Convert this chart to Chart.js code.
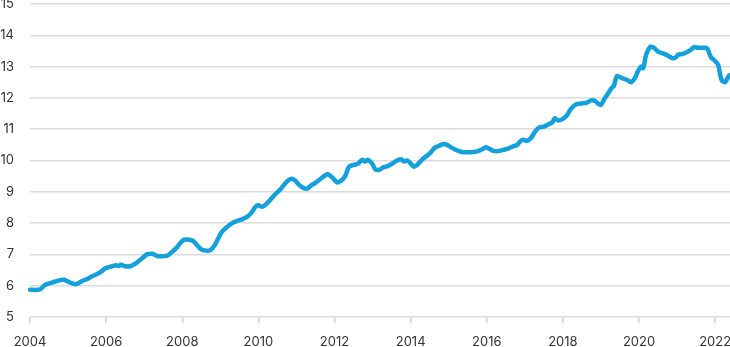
<!DOCTYPE html>
<html>
<head>
<meta charset="utf-8">
<script src="https://cdn.jsdelivr.net/npm/chart.js@4/dist/chart.umd.min.js"></script>
<style>
html,body{margin:0;padding:0;background:#fff;}
#c{display:block;}
</style>
</head>
<body>
<canvas id="c" width="730" height="347"></canvas>
<script>
const years = [2004.00,2004.26,2004.39,2004.58,2004.79,2004.89,2005.10,2005.21,2005.37,2005.52,
2005.63,2005.76,2005.87,2005.97,2006.10,2006.26,2006.34,2006.39,2006.50,2006.65,
2006.79,2006.92,2007.07,2007.21,2007.34,2007.49,2007.63,2007.73,2007.84,2007.94,
2008.05,2008.18,2008.28,2008.39,2008.49,2008.62,2008.73,2008.83,2008.94,2009.04,
2009.18,2009.31,2009.44,2009.57,2009.70,2009.81,2009.91,2009.99,2010.10,2010.20,
2010.31,2010.44,2010.57,2010.67,2010.78,2010.86,2010.96,2011.07,2011.17,2011.28,
2011.38,2011.49,2011.62,2011.75,2011.83,2011.93,2012.07,2012.17,2012.28,2012.38,
2012.51,2012.62,2012.72,2012.80,2012.88,2012.99,2013.07,2013.17,2013.28,2013.41,
2013.54,2013.64,2013.75,2013.83,2013.91,2013.98,2014.09,2014.19,2014.30,2014.43,
2014.54,2014.64,2014.75,2014.85,2014.96,2015.06,2015.19,2015.32,2015.48,2015.64,
2015.77,2015.88,2015.98,2016.06,2016.17,2016.30,2016.43,2016.56,2016.69,2016.80,
2016.87,2016.95,2017.06,2017.16,2017.27,2017.37,2017.50,2017.61,2017.72,2017.79,
2017.87,2018.00,2018.11,2018.21,2018.35,2018.48,2018.63,2018.74,2018.85,2018.92,
2019.00,2019.08,2019.19,2019.29,2019.34,2019.42,2019.55,2019.69,2019.79,2019.90,
2019.97,2020.05,2020.11,2020.18,2020.29,2020.39,2020.50,2020.63,2020.76,2020.87,
2020.95,2021.03,2021.13,2021.24,2021.34,2021.45,2021.55,2021.68,2021.79,2021.89,
2022.00,2022.08,2022.13,2022.18,2022.26,2022.31,2022.37];

const values = [5.87,5.88,6.02,6.1,6.18,6.19,6.08,6.05,6.15,6.22,
6.3,6.37,6.45,6.55,6.6,6.65,6.63,6.67,6.62,6.63,
6.72,6.85,7.0,7.02,6.95,6.94,6.97,7.08,7.2,7.35,
7.47,7.47,7.43,7.3,7.17,7.12,7.13,7.25,7.5,7.72,
7.88,8.0,8.07,8.12,8.2,8.32,8.5,8.57,8.52,8.6,
8.74,8.92,9.07,9.22,9.36,9.42,9.37,9.22,9.13,9.1,
9.2,9.28,9.4,9.52,9.56,9.47,9.3,9.35,9.5,9.8,
9.86,9.9,10.02,9.97,10.02,9.9,9.72,9.7,9.78,9.83,
9.92,10.0,10.04,9.97,10.0,9.93,9.8,9.88,10.03,10.15,
10.27,10.42,10.47,10.53,10.5,10.42,10.34,10.28,10.26,10.27,
10.3,10.36,10.42,10.38,10.31,10.3,10.34,10.38,10.45,10.5,
10.6,10.66,10.63,10.72,10.92,11.05,11.08,11.15,11.22,11.35,
11.28,11.33,11.45,11.65,11.8,11.82,11.85,11.92,11.9,11.82,
11.78,11.95,12.15,12.33,12.38,12.7,12.63,12.57,12.5,12.65,
12.85,13.0,12.95,13.35,13.62,13.6,13.48,13.42,13.35,13.27,
13.28,13.38,13.4,13.45,13.52,13.62,13.6,13.6,13.58,13.3,
13.18,13.05,12.75,12.55,12.5,12.6,12.72];

const xTickYears = [2004,2006,2008,2010,2012,2014,2016,2018,2020,2022];
const yTickValues = [5,6,7,8,9,10,11,12,13,14,15];

const points = years.map((y, i) => ({x: y, y: values[i]}));
const font = {family: "Inter, 'Open Sans', sans-serif", size: 13};

new Chart(document.getElementById('c'), {
  type: 'line',
  data: {
    datasets: [{
      data: points,
      borderColor: '#13a0db',
      borderWidth: 4.5,
      pointRadius: 0,
      tension: 0.3,
      borderCapStyle: 'round',
      borderJoinStyle: 'round',
      fill: false,
      clip: false
    }]
  },
  options: {
    responsive: false,
    animation: false,
    layout: {padding: {top: 4, right: 0, bottom: 0, left: 0}},
    plugins: {legend: {display: false}, tooltip: {enabled: false}},
    scales: {
      x: {
        type: 'linear',
        min: 2004,
        max: 2022.39,
        afterBuildTicks: s => { s.ticks = xTickYears.map(v => ({value: v})); },
        afterFit: s => { s.height = 30; s.paddingLeft = 0; s.paddingRight = 0; },
        border: {display: false},
        grid: {drawOnChartArea: false, drawTicks: true, tickLength: 6, color: '#cfcfcf', lineWidth: 1.5},
        ticks: {font: font, color: '#333', padding: 11, maxRotation: 0, autoSkip: false,
                callback: v => String(v)}
      },
      y: {
        min: 5,
        max: 15,
        afterBuildTicks: s => { s.ticks = yTickValues.map(v => ({value: v})); },
        afterFit: s => { s.width = 30; s.paddingTop = 0; s.paddingBottom = 0; },
        border: {display: false},
        grid: {color: '#dcdcdc', lineWidth: 1.5, drawTicks: false},
        ticks: {font: font, color: '#333', padding: 16, callback: v => String(v)}
      }
    }
  }
});
</script>
</body>
</html>
